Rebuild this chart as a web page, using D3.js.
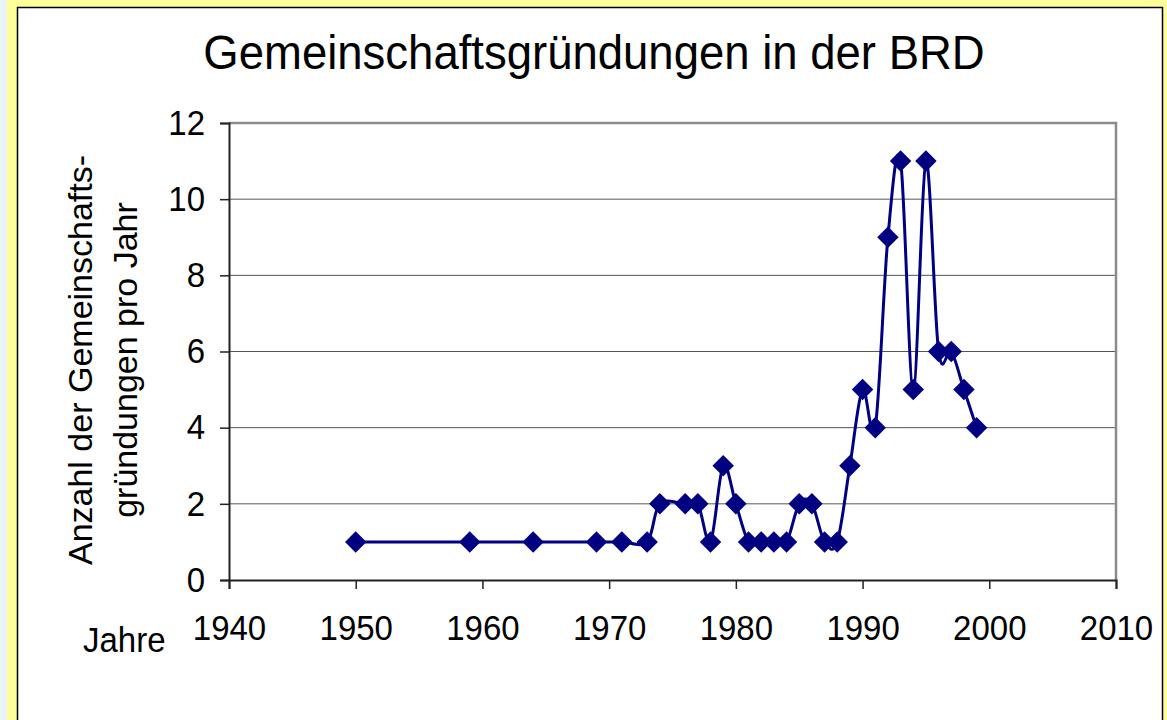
<!DOCTYPE html>
<html>
<head>
<meta charset="utf-8">
<script src="https://cdn.jsdelivr.net/npm/d3@7"></script>
<style>
  body { margin: 0; background: #eaf4f8; }
  text { font-family: "Liberation Sans", Arial, sans-serif; fill: #000; }
</style>
</head>
<body>
<div id="chart"></div>
<script>
// Gemeinschaftsgründungen pro Jahr
const years = [1950, 1959, 1964, 1969, 1971, 1973, 1974, 1976, 1977, 1978, 1979, 1980, 1981, 1982, 1983, 1984,
               1985, 1986, 1987, 1988, 1989, 1990, 1991, 1992, 1993, 1994, 1995, 1996, 1997, 1998, 1999];
const counts = [1, 1, 1, 1, 1, 1, 2, 2, 2, 1, 3, 2, 1, 1, 1, 1,
                2, 2, 1, 1, 3, 5, 4, 9, 11, 5, 11, 6, 6, 5, 4];
const xTicks = [1940, 1950, 1960, 1970, 1980, 1990, 2000, 2010];
const yTicks = [0, 2, 4, 6, 8, 10, 12];

const title = "Gemeinschaftsgründungen in der BRD";
const yTitle = ["Anzahl der Gemeinschafts-", "gründungen pro Jahr"];
const xTitle = "Jahre";

const W = 1167, H = 720;
const plot = { left: 229, top: 123, right: 1116, bottom: 580 };
const stretch = 1.07; // the original text is a bit taller than wide

const svg = d3.select('#chart').append('svg')
    .attr('width', W)
    .attr('height', H);

// frame: blue strip, yellow border, white chart area
svg.append('rect').attr('x', 0).attr('y', 0).attr('width', W).attr('height', H).attr('fill', '#eaf4f8');
svg.append('rect').attr('x', 7).attr('y', 0).attr('width', W - 7).attr('height', H).attr('fill', '#ffff99');
svg.append('rect').attr('x', 17.5).attr('y', 7.5).attr('width', 1145).attr('height', H + 10)
    .attr('fill', '#fff').attr('stroke', '#000').attr('stroke-width', 1.5);

const x = d3.scaleLinear().domain([1940, 2010]).range([plot.left, plot.right]);
const y = d3.scaleLinear().domain([0, 12]).range([plot.bottom, plot.top]);

// gridlines
svg.append('g')
  .selectAll('line')
  .data(yTicks.filter(d => d > 0))
  .join('line')
    .attr('x1', plot.left).attr('x2', plot.right)
    .attr('y1', d => y(d)).attr('y2', d => y(d))
    .attr('stroke', '#555').attr('stroke-width', 1);

// plot border (top / right grey)
svg.append('path')
    .attr('d', `M${plot.left},${plot.top}H${plot.right}V${plot.bottom}`)
    .attr('fill', 'none').attr('stroke', '#8a8a8a').attr('stroke-width', 2.5);

// axes
const yAxis = svg.append('g')
    .attr('transform', `translate(${plot.left},0)`)
    .call(d3.axisLeft(y).tickValues(yTicks).tickSize(9).tickPadding(15).tickFormat(d3.format('d')));
const xAxis = svg.append('g')
    .attr('transform', `translate(0,${plot.bottom})`)
    .call(d3.axisBottom(x).tickValues(xTicks).tickSize(9).tickPadding(24).tickFormat(d3.format('d')));

[yAxis, xAxis].forEach(g => {
  g.selectAll('.domain').attr('stroke', '#222').attr('stroke-width', 2);
  g.selectAll('.tick line').attr('stroke', '#222').attr('stroke-width', 1.5);
  g.selectAll('.tick text')
      .attr('font-size', 33)
      .attr('font-family', '"Liberation Sans", Arial, sans-serif')
      .attr('fill', '#000')
      .attr('transform', `scale(1,${stretch})`);
});

// smoothed series line
const line = d3.line()
    .x((d, i) => x(years[i]))
    .y(d => y(d))
    .curve(d3.curveCardinal.tension(0));

svg.append('path')
    .datum(counts)
    .attr('d', line)
    .attr('fill', 'none')
    .attr('stroke', '#000080')
    .attr('stroke-width', 3);

// diamond markers
const diamond = d3.symbol().type(d3.symbolSquare).size(230);
svg.append('g')
  .selectAll('path')
  .data(counts)
  .join('path')
    .attr('d', diamond)
    .attr('transform', (d, i) => `translate(${x(years[i])},${y(d)}) rotate(45)`)
    .attr('fill', '#000080');

// titles
svg.append('text')
    .attr('transform', `translate(594,69) scale(1,${stretch})`)
    .attr('text-anchor', 'middle')
    .attr('font-size', 45.5)
    .text(title);

svg.append('text')
    .attr('transform', `translate(83,652) scale(1,${stretch})`)
    .attr('font-size', 33)
    .text(xTitle);

const yt = svg.append('text')
    .attr('transform', 'translate(0,360) rotate(-90)')
    .attr('text-anchor', 'middle')
    .attr('font-size', 34);
yt.append('tspan').attr('x', 0).attr('y', 92).text(yTitle[0]);
yt.append('tspan').attr('x', 0).attr('y', 137).text(yTitle[1]);
</script>
</body>
</html>
